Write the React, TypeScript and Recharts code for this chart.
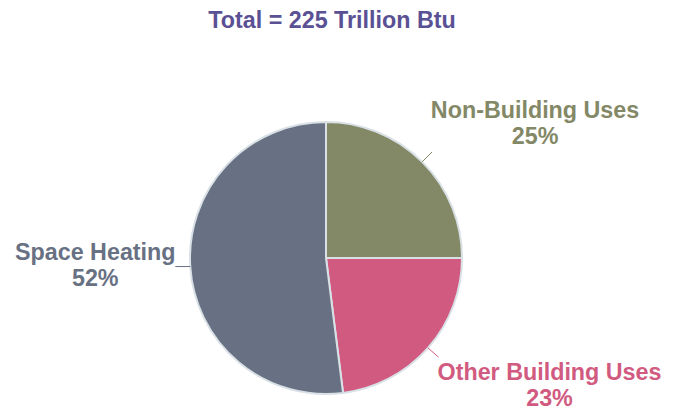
import { Pie, PieChart, Cell } from "recharts";

const categories = ["Non-Building Uses", "Other Building Uses", "Space Heating"];
const shares = [25, 23, 52];
const colors = ["#838866", "#d15b80", "#687183"];
const title = "Total = 225 Trillion Btu";

const data = categories.map((name, i) => ({ name, value: shares[i] }));

// where each label's text sits relative to the end of its leader line
const labelOffsets = [
  { dx: 103, dy: -34 },
  { dx: 111, dy: 23 },
  { dx: -80, dy: -7 },
];

const RAD = Math.PI / 180;
const FONT = "'Liberation Sans', Arial, sans-serif";

function renderLabel(props: any) {
  const { cx, cy, midAngle, outerRadius, index, name, value } = props;
  const cos = Math.cos(-midAngle * RAD);
  const sin = Math.sin(-midAngle * RAD);
  const sx = cx + outerRadius * cos;
  const sy = cy + outerRadius * sin;
  const left = cos < 0;
  const ex = left ? sx - 15 : cx + (outerRadius + 14) * cos;
  const ey = left ? sy : cy + (outerRadius + 14) * sin;
  const off = labelOffsets[index];
  const tx = ex + off.dx;
  const ty = ey + off.dy;
  const color = colors[index];
  return (
    <g>
      <line x1={sx} y1={sy} x2={ex} y2={ey} stroke={color} strokeWidth={1} />
      <text
        x={tx}
        y={ty}
        textAnchor="middle"
        fill={color}
        fontFamily={FONT}
        fontWeight="bold"
        fontSize={23.3}
      >
        <tspan x={tx} dy={0}>
          {name}
        </tspan>
        <tspan x={tx} dy={26}>
          {value}%
        </tspan>
      </text>
    </g>
  );
}

export default function App() {
  return (
    <div style={{ position: "absolute", left: 0, top: 0, width: 674, height: 411, background: "#fff" }}>
      <PieChart width={674} height={411} margin={{ top: 0, right: 0, bottom: 0, left: 0 }}>
        <Pie
          data={data}
          dataKey="value"
          nameKey="name"
          cx={326}
          cy={258}
          outerRadius={136}
          startAngle={90}
          endAngle={-270}
          stroke="#d9e1e6"
          strokeWidth={2}
          label={renderLabel}
          labelLine={false}
          isAnimationActive={false}
        >
          {data.map((d, i) => (
            <Cell key={d.name} fill={colors[i]} />
          ))}
        </Pie>
      </PieChart>
      <svg width={674} height={40} style={{ position: "absolute", left: 0, top: 0 }}>
        <text
          x={332}
          y={28}
          textAnchor="middle"
          fill="#5a5194"
          fontFamily={FONT}
          fontWeight="bold"
          fontSize={23.3}
        >
          {title}
        </text>
      </svg>
    </div>
  );
}
